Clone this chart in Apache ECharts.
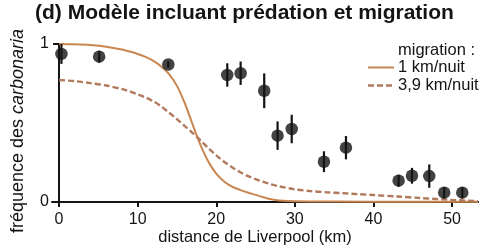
<!DOCTYPE html>
<html><head><meta charset="utf-8">
<script src="https://cdn.jsdelivr.net/npm/echarts@6/dist/echarts.min.js"></script>
<style>html,body{margin:0;padding:0;background:#fff}#c{width:483px;height:249px}</style>
</head><body><div id="c"></div>
<script>
// Observed data (distance from Liverpool, km) with frequency and error half-width
const obsDistance = [0.3, 5.1, 13.9, 21.4, 23.1, 26.1, 27.8, 29.6, 33.7, 36.5, 43.2, 44.9, 47.1, 49.0, 51.3];
const obsFreq     = [0.937, 0.92, 0.87, 0.804, 0.815, 0.704, 0.42, 0.462, 0.255, 0.344, 0.135, 0.166, 0.164, 0.059, 0.059];
const obsErr      = [0.063, 0.037, 0.02, 0.074, 0.074, 0.11, 0.09, 0.09, 0.066, 0.074, 0.037, 0.05, 0.074, 0.035, 0.035];

// Model curve: migration 1 km/nuit
const m1Distance = [0, 2, 4, 6, 8, 9, 10, 11, 12, 13, 14, 15, 16, 17, 18, 19, 20, 21, 22, 23, 24, 25, 26, 27, 28, 30, 35, 45, 53.3];
const m1Freq     = [1.0, 0.998, 0.993, 0.983, 0.965, 0.952, 0.937, 0.918, 0.893, 0.858, 0.81, 0.735, 0.625, 0.49, 0.36, 0.255, 0.18, 0.13, 0.097, 0.077, 0.06, 0.045, 0.03, 0.017, 0.01, 0.005, 0.003, 0.002, 0.002];

// Model curve: migration 3,9 km/nuit
const m39Distance = [0, 2, 4, 6, 8, 9, 10, 11, 12, 13, 14, 15, 16, 17, 18, 19, 20, 21, 22, 23, 24, 25, 26, 27, 28, 30, 32, 34, 36, 38, 40, 43, 46, 50, 53.3];
const m39Freq     = [0.772, 0.765, 0.752, 0.737, 0.715, 0.7, 0.682, 0.662, 0.637, 0.605, 0.565, 0.525, 0.48, 0.436, 0.39, 0.34, 0.295, 0.255, 0.22, 0.19, 0.165, 0.145, 0.128, 0.112, 0.099, 0.08, 0.069, 0.062, 0.056, 0.05, 0.044, 0.035, 0.025, 0.013, 0.005];

const xTicks = [0, 10, 20, 30, 40, 50];
const yTicks = [0, 1];

const titleText = '(d) Modèle incluant prédation et migration';
const xName = 'distance de Liverpool (km)';
const legendTitle = 'migration :';
const legendNames = ['1 km/nuit', '3,9 km/nuit'];

const FONT = '"Liberation Sans", Arial, sans-serif';
const INK = '#141414';
const C1 = '#c98650';
const C2 = '#b27a5c';

const zip = (a, b) => a.map((v, i) => [v, b[i]]);

const chart = echarts.init(document.getElementById('c'), null, {renderer: 'canvas'});
chart.setOption({
  animation: false,
  backgroundColor: '#ffffff',
  title: {
    text: titleText, left: 35, top: 3, padding: 0,
    textStyle: {fontFamily: FONT, fontWeight: 'bold', fontSize: 21, color: INK}
  },
  grid: {left: 52, right: 5, top: 44, bottom: 47, containLabel: false},
  xAxis: {
    type: 'value', min: -0.9, max: 53.3,
    axisLine: {show: true, lineStyle: {color: INK, width: 2}},
    axisTick: {show: true, length: 5, lineStyle: {color: INK, width: 2}, customValues: xTicks},
    axisLabel: {fontFamily: FONT, fontSize: 16, color: INK, margin: 10, customValues: xTicks},
    splitLine: {show: false}
  },
  yAxis: {
    type: 'value', min: 0, max: 1, interval: 1,
    axisLine: {show: true, lineStyle: {color: INK, width: 2}},
    axisTick: {show: true, length: 6, lineStyle: {color: INK, width: 2}, customValues: yTicks},
    axisLabel: {fontFamily: FONT, fontSize: 16, color: INK, margin: 3, customValues: yTicks},
    splitLine: {show: false}
  },
  graphic: [
    {type: 'text', x: 18, y: 131, rotation: Math.PI / 2,
     style: {text: '{a|fréquence des }{b|carbonaria}', align: 'center', verticalAlign: 'middle',
       rich: {a: {fontFamily: FONT, fontSize: 18, fill: INK}, b: {fontFamily: FONT, fontSize: 18, fontStyle: 'italic', fill: INK}}}},
    {type: 'text', x: 255, y: 237,
     style: {text: xName, fontFamily: FONT, fontSize: 16.5, fill: INK, align: 'center', verticalAlign: 'middle'}},
    {type: 'text', x: 398, y: 50,
     style: {text: legendTitle, fontFamily: FONT, fontSize: 16.5, fill: INK, align: 'left', verticalAlign: 'middle'}},
    {type: 'text', x: 398, y: 67,
     style: {text: legendNames[0], fontFamily: FONT, fontSize: 16.5, fill: INK, align: 'left', verticalAlign: 'middle'}},
    {type: 'text', x: 398, y: 85,
     style: {text: legendNames[1], fontFamily: FONT, fontSize: 16.5, fill: INK, align: 'left', verticalAlign: 'middle'}},
    {type: 'line', shape: {x1: 368, y1: 67.5, x2: 394, y2: 67.5}, style: {stroke: C1, lineWidth: 2}},
    {type: 'line', shape: {x1: 368, y1: 85.5, x2: 394, y2: 85.5}, style: {stroke: C2, lineWidth: 2.4, lineDash: [6, 3]}}
  ],
  series: [
    {name: legendNames[0], type: 'line', data: zip(m1Distance, m1Freq), smooth: 0.3,
     showSymbol: false, lineStyle: {color: C1, width: 2}, z: 2},
    {name: legendNames[1], type: 'line', data: zip(m39Distance, m39Freq), smooth: 0.3,
     showSymbol: false, lineStyle: {color: C2, width: 2.4, type: [6, 3]}, z: 2},
    {type: 'custom', data: obsDistance.map((d, i) => [d, obsFreq[i] - obsErr[i], obsFreq[i] + obsErr[i]]),
     encode: {x: 0, y: [1, 2]}, z: 3,
     renderItem: (params, api) => {
       const p1 = api.coord([api.value(0), api.value(1)]);
       const p2 = api.coord([api.value(0), api.value(2)]);
       return {type: 'line', shape: {x1: p1[0], y1: p1[1], x2: p2[0], y2: p2[1]}, style: {stroke: INK, lineWidth: 2.2}};
     }},
    {type: 'scatter', data: zip(obsDistance, obsFreq), symbol: 'circle', symbolSize: 12.5,
     itemStyle: {color: INK}, z: 4}
  ]
});
</script></body></html>
